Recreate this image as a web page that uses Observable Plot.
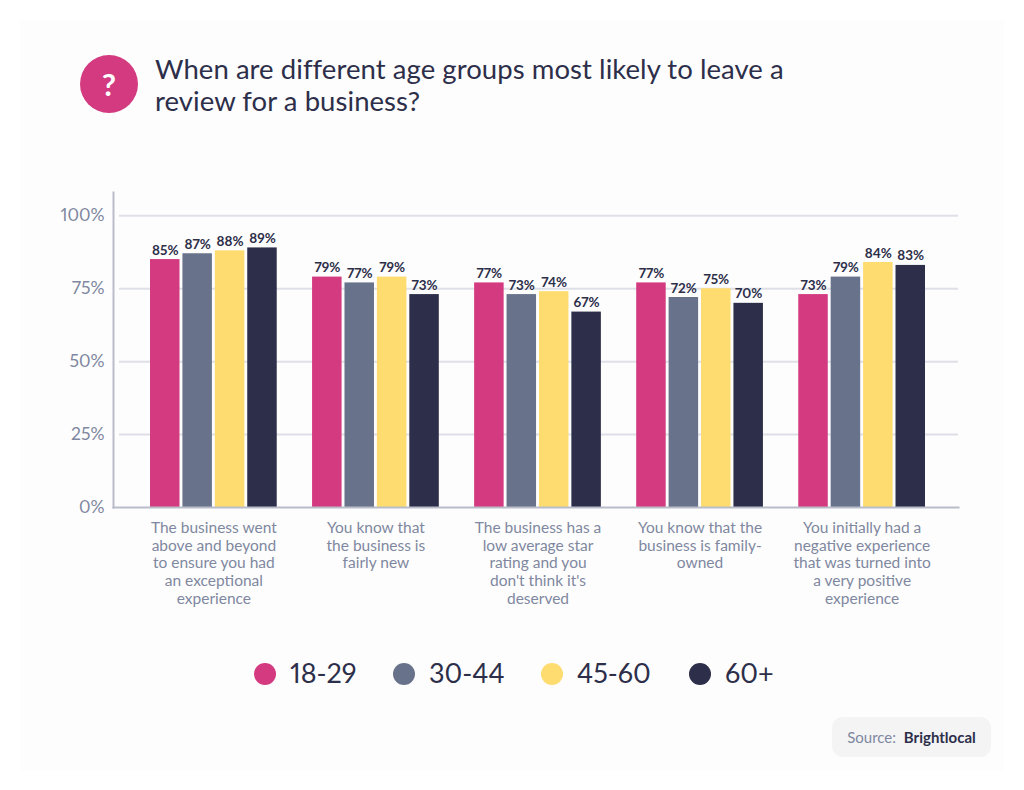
<!DOCTYPE html>
<html>
<head>
<meta charset="utf-8">
<script src="https://cdn.jsdelivr.net/npm/d3@7"></script>
<script src="https://cdn.jsdelivr.net/npm/@observablehq/plot@0.6"></script>
<style>
  html, body { margin: 0; padding: 0; background: #fff; }
  body { width: 1024px; height: 790px; position: relative; overflow: hidden; font-family: Lato, sans-serif; color: #2d2f4a; font-variant-numeric: proportional-nums; }
  .card { position: absolute; left: 20px; top: 20px; width: 984px; height: 750px; background: #fdfdfd; }
  .icon { position: absolute; left: 80px; top: 55px; width: 58px; height: 58px; border-radius: 50%; background: #d33a7f; color: #fff; font-size: 31px; font-weight: 700; line-height: 58px; text-align: center; }
  h1 { position: absolute; left: 155px; top: 53px; margin: 0; font-size: 27.5px; font-weight: 400; line-height: 32px; letter-spacing: .06px; white-space: nowrap; }
  #chart { position: absolute; left: 0; top: 0; }
  .lg-dot { position: absolute; top: 663px; width: 22px; height: 22px; border-radius: 50%; }
  .lg-txt { position: absolute; top: 655px; font-size: 27px; line-height: 36px; white-space: nowrap; }
  .source { position: absolute; left: 832px; top: 717px; width: 159px; height: 40px; background: #f4f4f5; border-radius: 11px; font-size: 15px; line-height: 40px; text-align: center; color: #7f88a0; white-space: nowrap; }
  .source b { color: #2d2f4a; font-weight: 700; margin-left: 4px; }
  #chart text { font-variant-numeric: proportional-nums; }
</style>
</head>
<body>
<div class="card"></div>
<div id="chart"></div>
<div class="icon">?</div>
<h1>When are different age groups most likely to leave a<br>review for a business?</h1>
<div id="legend"></div>
<div class="source">Source: <b>Brightlocal</b></div>
<script>
const categories = [
  "The business went\nabove and beyond\nto ensure you had\nan exceptional\nexperience",
  "You know that\nthe business is\nfairly new",
  "The business has a\nlow average star\nrating and you\ndon't think it's\ndeserved",
  "You know that the\nbusiness is family-\nowned",
  "You initially had a\nnegative experience\nthat was turned into\na very positive\nexperience"
];
const ages = ["18-29", "30-44", "45-60", "60+"];
const colors = ["#d33a7f", "#68738b", "#ffdc70", "#2d2f4a"];
const v1829 = [85, 79, 77, 77, 73];
const v3044 = [87, 77, 73, 72, 79];
const v4560 = [88, 79, 74, 75, 84];
const v60 = [89, 73, 67, 70, 83];
const yTicks = [0, 25, 50, 75, 100];
const legendDotX = [254, 393, 541, 689];
const legendTextX = [290, 429, 577, 725];

const series = [v1829, v3044, v4560, v60];
const rows = [];
const xDomain = [];
categories.forEach((c, ci) => {
  ages.forEach((a, ai) => {
    const key = ci + "|" + a;
    xDomain.push(key);
    rows.push({key, cat: c, age: a, value: series[ai][ci]});
  });
  if (ci < categories.length - 1) xDomain.push("gap" + ci);
});
const labelRows = categories.map((c, ci) => ({key: ci + "|" + ages[1], label: c}));

const plot = Plot.plot({
  width: 1024,
  height: 620,
  marginLeft: 113,
  marginRight: 66,
  marginTop: 192,
  marginBottom: 113,
  style: {background: "transparent", fontFamily: "Lato, sans-serif"},
  x: {domain: xDomain, range: [150, 925], paddingInner: 0.09, paddingOuter: 0, round: false, axis: null},
  y: {domain: [0, 108], axis: null},
  color: {domain: ages, range: colors},
  marks: [
    Plot.ruleY(yTicks.filter(d => d > 0), {stroke: "#dfe0e7", strokeWidth: 2, insetLeft: 6}),
    Plot.barY(rows, {x: "key", y: "value", fill: "age"}),
    Plot.text(rows, {x: "key", y: "value", text: d => d.value + "%", lineAnchor: "bottom", dy: -5, fontSize: 13.5, fontWeight: 700, fill: "#2d2f4a"}),
    Plot.axisY({ticks: yTicks, tickSize: 0, tickPadding: 9, tickFormat: d => d + "%", fontSize: 17.5, fill: "#7f88a0", label: null}),
    Plot.frame({anchor: "left", stroke: "#b9bdc9", strokeWidth: 2}),
    Plot.frame({anchor: "bottom", stroke: "#b9bdc9", strokeWidth: 2}),
    Plot.text(labelRows, {x: "key", text: "label", frameAnchor: "bottom", lineAnchor: "top", dx: 16.2, dy: 13, fontSize: 15.5, lineHeight: 1.14, fill: "#7f88a0"})
  ]
});
document.getElementById("chart").appendChild(plot);

const legend = document.getElementById("legend");
ages.forEach((a, i) => {
  const dot = document.createElement("div");
  dot.className = "lg-dot";
  dot.style.left = legendDotX[i] + "px";
  dot.style.background = colors[i];
  const txt = document.createElement("div");
  txt.className = "lg-txt";
  txt.style.left = legendTextX[i] + "px";
  txt.textContent = a;
  legend.append(dot, txt);
});
</script>
</body>
</html>
